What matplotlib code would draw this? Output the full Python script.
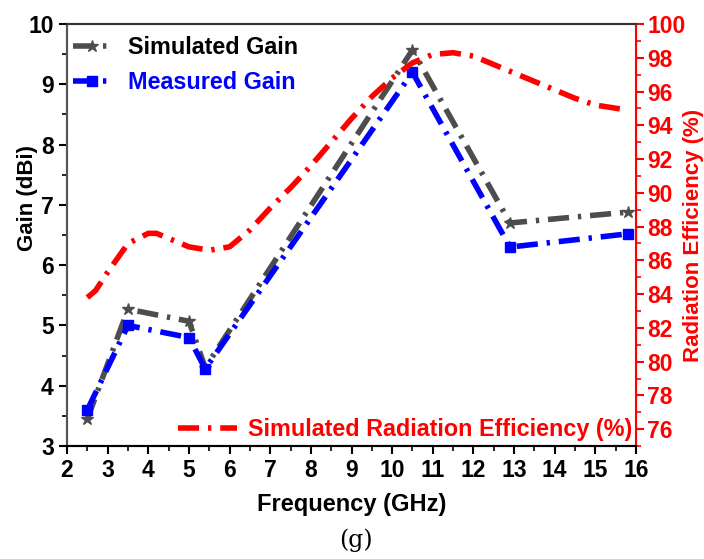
import matplotlib.pyplot as plt
import numpy as np

plt.rcParams['font.family'] = ['Liberation Sans', 'DejaVu Sans']
plt.rcParams['font.weight'] = 'bold'

# gain data
freq_gain = [2.5, 3.5, 5.0, 5.4, 10.5, 12.9, 15.8]
sim_gain = [3.45, 5.27, 5.07, 4.3, 9.57, 6.7, 6.88]
meas_gain = [3.6, 5.0, 4.8, 4.28, 9.2, 6.3, 6.52]

# simulated radiation efficiency (%)
freq_eff = [2.5, 2.7, 3.0, 3.5, 4.0, 4.2, 4.5, 5.0, 5.5, 6.0, 6.5, 7.0, 7.5, 8.0,
            8.5, 9.0, 9.5, 10.0, 10.5, 11.0, 11.5, 12.0, 12.5, 13.0, 13.5, 14.0,
            14.5, 15.0, 15.8]
sim_eff = [83.8, 84.2, 85.3, 87.0, 87.6, 87.6, 87.3, 86.8, 86.6, 86.8, 87.8, 89.1,
           90.3, 91.6, 93.0, 94.4, 95.7, 96.8, 97.7, 98.2, 98.3, 98.1, 97.6, 97.1,
           96.6, 96.1, 95.6, 95.2, 94.9]

fig = plt.figure(figsize=(7.04, 5.59), dpi=100)
ax = fig.add_axes([0.0952, 0.2021, 0.8082, 0.7549])
ax2 = ax.twinx()

ls = (0, (3.8, 1.6, 0.6, 1.6))
ax.plot(freq_gain, sim_gain, color='#4d4d4d', lw=4, linestyle=ls,
        marker='*', markersize=9, label='Simulated Gain', zorder=3)
ax.plot(freq_gain, meas_gain, color='#0000ff', lw=4, linestyle=ls,
        marker='s', markersize=7.5, label='Measured Gain', zorder=3)
ax2.plot(freq_eff, sim_eff, color='#ff0000', lw=4, linestyle=ls,
         label='Simulated Radiation Efficiency (%)')

ax.set_xlim(2, 16)
ax.set_ylim(3, 10)
ax2.set_ylim(75, 100)
ax.set_xticks(np.arange(2, 17, 1))
ax.set_xticks(np.arange(2, 16.5, 0.5), minor=True)
ax.set_yticks(np.arange(3, 11, 1))
ax.set_yticks(np.arange(3, 10.5, 0.5), minor=True)
ax2.set_yticks(np.arange(76, 101, 2))
ax2.set_yticks(np.arange(75, 101, 1), minor=True)

ax.tick_params(which='major', direction='out', length=6, width=1.5, labelsize=16.5)
ax.tick_params(which='minor', direction='out', length=3.5, width=1.2)
ax2.tick_params(which='major', direction='out', length=6, width=1.5, labelsize=16.5,
                colors='#ff0000', pad=2)
ax2.tick_params(which='minor', direction='out', length=3.5, width=1.2, colors='#ff0000')
for sp in ['left', 'bottom', 'top']:
    ax.spines[sp].set_linewidth(1.5)
    ax2.spines[sp].set_linewidth(1.5)
ax.spines['left'].set_color('#555555')
ax2.spines['left'].set_color('#555555')
ax.spines['top'].set_color('#333333')
ax2.spines['top'].set_color('#333333')
ax2.spines['right'].set_color('#ff0000')
ax2.spines['right'].set_linewidth(1.5)

ax.set_xlabel('Frequency (GHz)', fontsize=17, fontweight='bold', labelpad=8)
ax.set_ylabel('Gain (dBi)', fontsize=16, fontweight='bold')
ax.yaxis.set_label_coords(-0.051, 0.588)
ax2.set_ylabel('Radiation Efficiency (%)', fontsize=16, fontweight='bold',
               color='#ff0000')
ax2.yaxis.set_label_coords(1.083, 0.5)

leg1 = ax.legend(loc='upper left', frameon=False, fontsize=16.8, handlelength=1.6,
                 handletextpad=0.75, labelspacing=0.5, borderaxespad=0.0,
                 borderpad=0.25, labelcolor=['black', '#0000ff'],
                 bbox_to_anchor=(0.0, 0.985))
ax2.legend(loc='lower right', frameon=False, fontsize=16.8, handlelength=2.5,
           handletextpad=0.5, borderaxespad=0.0, borderpad=0.15,
           labelcolor='#ff0000', bbox_to_anchor=(1.0, 0.003))

fig.text(0.505, 0.033, '(g)', fontsize=17, family='DejaVu Serif', fontweight='normal',
         ha='center', va='center')

fig.savefig('out.png', dpi=100)
